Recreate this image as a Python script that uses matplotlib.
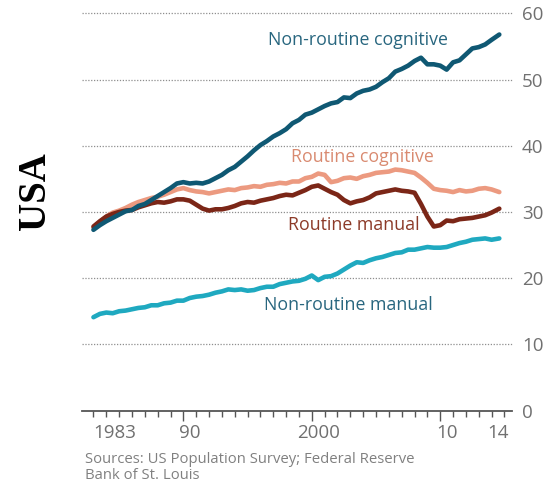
import matplotlib
matplotlib.use("Agg")
import matplotlib.pyplot as plt

years = [1983.0, 1983.5, 1984.0, 1984.5, 1985.0, 1985.5, 1986.0, 1986.5, 1987.0, 1987.5,
         1988.0, 1988.5, 1989.0, 1989.5, 1990.0, 1990.5, 1991.0, 1991.5, 1992.0, 1992.5,
         1993.0, 1993.5, 1994.0, 1994.5, 1995.0, 1995.5, 1996.0, 1996.5, 1997.0, 1997.5,
         1998.0, 1998.5, 1999.0, 1999.5, 2000.0, 2000.5, 2001.0, 2001.5, 2002.0, 2002.5,
         2003.0, 2003.5, 2004.0, 2004.5, 2005.0, 2005.5, 2006.0, 2006.5, 2007.0, 2007.5,
         2008.0, 2008.5, 2009.0, 2009.5, 2010.0, 2010.5, 2011.0, 2011.5, 2012.0, 2012.5,
         2013.0, 2013.5, 2014.0, 2014.6]

non_routine_cognitive = [27.3, 28.0, 28.6, 29.1, 29.6, 30.1, 30.3, 30.9, 31.2, 31.8,
                         32.4, 33.0, 33.6, 34.3, 34.5, 34.3, 34.4, 34.3, 34.6, 35.1,
                         35.6, 36.3, 36.8, 37.6, 38.4, 39.3, 40.1, 40.7, 41.4, 41.9,
                         42.5, 43.4, 43.9, 44.7, 45.0, 45.5, 46.0, 46.4, 46.6, 47.3,
                         47.2, 47.9, 48.3, 48.5, 48.9, 49.6, 50.2, 51.2, 51.6, 52.1,
                         52.8, 53.3, 52.3, 52.3, 52.1, 51.5, 52.6, 52.9, 53.8, 54.7,
                         54.9, 55.3, 56.0, 56.8]

routine_cognitive = [27.6, 28.5, 29.3, 29.9, 30.2, 30.6, 31.1, 31.5, 31.8, 32.1,
                     32.3, 32.6, 33.0, 33.4, 33.6, 33.3, 33.1, 33.0, 32.8, 33.0,
                     33.2, 33.4, 33.3, 33.6, 33.7, 33.9, 33.8, 34.1, 34.2, 34.4,
                     34.3, 34.6, 34.6, 35.1, 35.3, 35.8, 35.6, 34.5, 34.7, 35.1,
                     35.2, 35.0, 35.4, 35.6, 35.9, 36.0, 36.1, 36.4, 36.3, 36.1,
                     35.9, 35.2, 34.4, 33.5, 33.3, 33.2, 33.0, 33.3, 33.1, 33.2,
                     33.5, 33.6, 33.4, 33.0]

routine_manual = [27.8, 28.6, 29.3, 29.7, 30.0, 30.2, 30.3, 30.7, 31.0, 31.3,
                  31.5, 31.4, 31.6, 31.9, 31.9, 31.7, 31.1, 30.5, 30.2, 30.4,
                  30.4, 30.6, 30.9, 31.3, 31.5, 31.4, 31.7, 31.9, 32.1, 32.4,
                  32.6, 32.5, 32.9, 33.3, 33.8, 34.0, 33.5, 33.0, 32.6, 31.8,
                  31.3, 31.6, 31.8, 32.2, 32.8, 33.0, 33.2, 33.4, 33.2, 33.1,
                  32.9, 31.2, 29.3, 27.8, 28.0, 28.7, 28.6, 28.9, 29.0, 29.1,
                  29.3, 29.5, 29.9, 30.5]

non_routine_manual = [14.1, 14.6, 14.8, 14.7, 15.0, 15.1, 15.3, 15.5, 15.6, 15.9,
                      15.9, 16.2, 16.3, 16.6, 16.6, 17.0, 17.2, 17.3, 17.5, 17.8,
                      18.0, 18.3, 18.2, 18.3, 18.1, 18.2, 18.5, 18.7, 18.7, 19.1,
                      19.3, 19.5, 19.6, 19.9, 20.4, 19.7, 20.2, 20.3, 20.7, 21.3,
                      21.9, 22.4, 22.3, 22.7, 23.0, 23.2, 23.5, 23.8, 23.9, 24.3,
                      24.3, 24.5, 24.7, 24.6, 24.6, 24.7, 25.0, 25.3, 25.5, 25.8,
                      25.9, 26.0, 25.8, 26.0]

y_ticks = [0, 10, 20, 30, 40, 50, 60]
x_label_pos = [1983.0, 1990.5, 2000.5, 2010.5, 2014.5]
x_label_txt = ["1983", "90", "2000", "10", "14"]
x_label_ha = ["left", "center", "center", "center", "center"]
tick_years = list(range(1983, 2016))
decade_years = [1990, 2000, 2010]

FONT = "Open Sans"
C_NRC = "#0f5873"
C_RC = "#ec9a80"
C_RM = "#7b2617"
C_NRM = "#1fa9c0"
GRAY = "#707070"

fig = plt.figure(figsize=(5.46, 4.87), dpi=100)
fig.patch.set_facecolor("white")
ax = fig.add_axes([0.150, 0.157, 0.788, 0.8156])

for vals, c in [(non_routine_manual, C_NRM), (routine_cognitive, C_RC),
                (routine_manual, C_RM), (non_routine_cognitive, C_NRC)]:
    ax.plot(years, vals, color=c, lw=3.3, solid_capstyle="round", solid_joinstyle="round")

ax.set_xlim(1982.1, 2015.6)
ax.set_ylim(0, 60)

for s in ["top", "left", "right"]:
    ax.spines[s].set_visible(False)
ax.spines["bottom"].set_color("#555555")
ax.spines["bottom"].set_linewidth(1.3)

# y axis on right
ax.yaxis.tick_right()
ax.set_yticks(y_ticks)
ax.set_yticklabels([str(v) for v in y_ticks], fontfamily=FONT, fontsize=13.5, color=GRAY)
ax.tick_params(axis="y", length=0, pad=7)
for v in y_ticks[1:]:
    ax.axhline(v, color="#8e8e8e", lw=0.9, ls=(0, (1, 1.3)), zorder=0, clip_on=False)

# x ticks: every year, longer at decades
ax.set_xticks(tick_years)
ax.tick_params(axis="x", which="major", direction="out", length=4.5, width=1.0,
               color="#555555", labelbottom=False)
for yv, tk in zip(tick_years, ax.xaxis.get_major_ticks()):
    if yv in decade_years:
        tk.tick1line.set_markersize(7.5)

for xp, txt, ha in zip(x_label_pos, x_label_txt, x_label_ha):
    ax.annotate(txt, xy=(xp, 0), xycoords=("data", "axes fraction"),
                xytext=(0, -16), textcoords="offset points", ha=ha, va="center",
                fontfamily=FONT, fontsize=13.5, color=GRAY, annotation_clip=False)

# series labels
LS = 12.8
ax.text(1996.6, 56.0, "Non-routine cognitive", color="#28667f", fontfamily=FONT,
        fontsize=LS, va="center", ha="left")
ax.text(1998.4, 38.3, "Routine cognitive", color="#d98a70", fontfamily=FONT,
        fontsize=LS, va="center", ha="left")
ax.text(2008.4, 28.1, "Routine manual", color="#8c3a28", fontfamily=FONT,
        fontsize=LS, va="center", ha="right")
ax.text(1996.3, 15.9, "Non-routine manual", color="#28667f", fontfamily=FONT,
        fontsize=LS, va="center", ha="left")

fig.text(35 / 546, 1 - 191 / 487, "USA", rotation=90, fontfamily="Liberation Serif",
         fontweight="bold", fontsize=28, ha="center", va="center", color="black")

fig.text(85 / 546, 1 - 452 / 487, "Sources: US Population Survey; Federal Reserve\nBank of St. Louis",
         fontfamily=FONT, fontsize=10.7, color="#808080", ha="left", va="top", linespacing=1.05)

fig.savefig("out.png", dpi=100, facecolor="white")
